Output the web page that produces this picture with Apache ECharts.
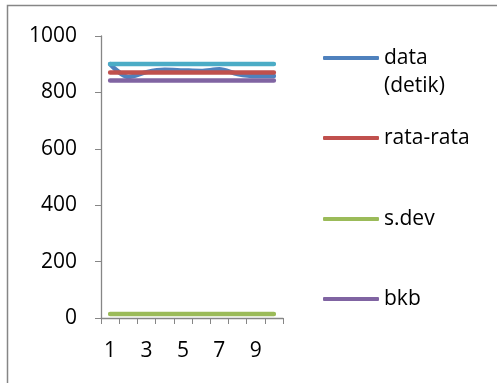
<!DOCTYPE html>
<html><head><meta charset="utf-8">
<script src="https://cdn.jsdelivr.net/npm/echarts@6/dist/echarts.min.js"></script>
<style>html,body{margin:0;padding:0;background:#fff}#c{width:497px;height:383px}</style>
</head><body><div id="c"></div>
<script>
const categories = ['1','2','3','4','5','6','7','8','9','10'];
const dataDetik = [900, 855, 872, 880, 878, 876, 882, 865, 858, 858];
const rataRata = [871, 871, 871, 871, 871, 871, 871, 871, 871, 871];
const sDev = [14, 14, 14, 14, 14, 14, 14, 14, 14, 14];
const bkb = [842, 842, 842, 842, 842, 842, 842, 842, 842, 842];
const bka = [901, 901, 901, 901, 901, 901, 901, 901, 901, 901];
const yTicks = [0, 200, 400, 600, 800, 1000];
const seriesNames = ['data (detik)', 'rata-rata', 's.dev', 'bkb', 'bka'];

const font = 'Open Sans, Liberation Sans, sans-serif';
const fs = 21;
const axisCol = '#868686';
const chart = echarts.init(document.getElementById('c'));
function lineSeries(name, data, color, z) {
  return { name, type: 'line', data, smooth: 0.3, showSymbol: false, symbol: 'none', z,
    lineStyle: { color, width: 4.5, cap: 'round' }, itemStyle: { color } };
}
function leg(name, top, label) {
  return { data: [{ name, icon: 'roundRect' }], left: 323, top, orient: 'vertical',
    itemWidth: 56, itemHeight: 4, itemGap: 0, padding: 0,
    formatter: () => label,
    textStyle: { fontFamily: font, fontSize: fs, color: '#000', lineHeight: 28 } };
}
chart.setOption({
  animation: false,
  graphic: [
    { type: 'rect', shape: { x: 7.5, y: 5.5, width: 600, height: 500 },
      style: { fill: 'none', stroke: axisCol, lineWidth: 1.5 }, silent: true },
    { type: 'text', left: 384, top: 76, silent: true,
      style: { text: '(detik)', font: fs + 'px ' + font, fill: '#000' } }
  ],
  grid: { left: 101, right: 214, top: 36, bottom: 65 },
  legend: [
    leg(seriesNames[0], 44, 'data'),
    leg(seriesNames[1], 124, 'rata-rata'),
    leg(seriesNames[2], 205, 's.dev'),
    leg(seriesNames[3], 285, 'bkb')
  ],
  xAxis: { type: 'category', data: categories, boundaryGap: true,
    axisLine: { lineStyle: { color: axisCol, width: 1.3 } },
    axisTick: { show: true, length: 6, lineStyle: { color: axisCol }, interval: 0 },
    axisLabel: { interval: 1, margin: 23, fontFamily: font, fontSize: fs, color: '#000' } },
  yAxis: { type: 'value', min: yTicks[0], max: yTicks[yTicks.length - 1], interval: 200,
    splitLine: { show: false },
    axisLine: { show: true, lineStyle: { color: axisCol, width: 1.3 } },
    axisTick: { show: true, length: 6, lineStyle: { color: axisCol } },
    axisLabel: { margin: 24, fontFamily: font, fontSize: fs, color: '#000', formatter: v => String(v) } },
  series: [
    lineSeries(seriesNames[0], dataDetik, '#4F81BD', 2),
    lineSeries(seriesNames[1], rataRata, '#C0504D', 3),
    lineSeries(seriesNames[2], sDev, '#9BBB59', 4),
    lineSeries(seriesNames[3], bkb, '#8064A2', 5),
    lineSeries(seriesNames[4], bka, '#4BACC6', 6)
  ]
});
</script></body></html>
